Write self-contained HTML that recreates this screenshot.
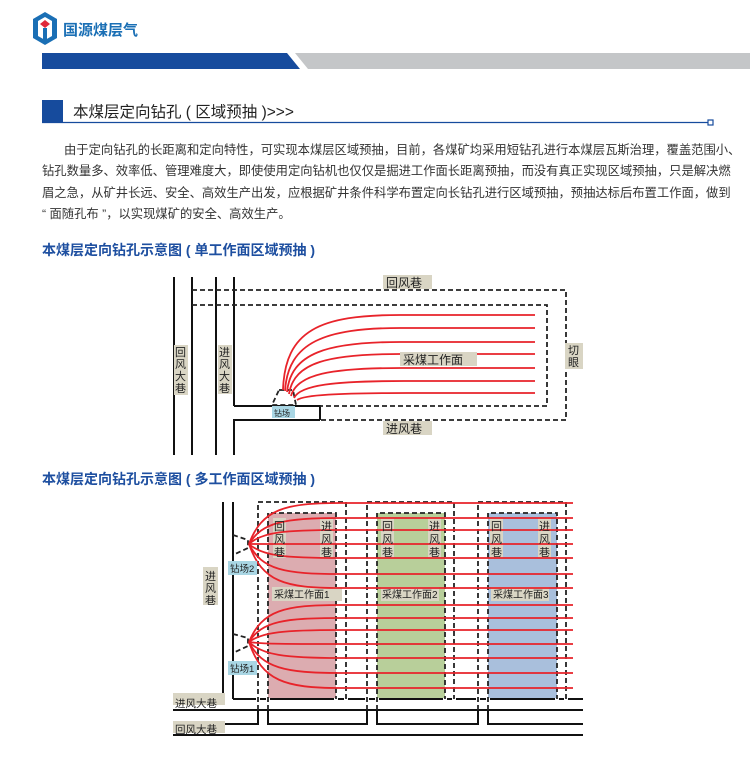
<!DOCTYPE html>
<html><head><meta charset="utf-8"><style>
body{margin:0;width:750px;height:759px;background:#fff;position:relative;overflow:hidden;font-family:"Liberation Sans","Noto Sans CJK SC",sans-serif;}
.a{position:absolute;}
.p{position:absolute;left:42px;width:674px;font-size:12.3px;color:#333;text-align:justify;text-align-last:justify;white-space:nowrap;line-height:14px;}
.sub{position:absolute;left:42px;font-size:14px;font-weight:bold;color:#1e4fa0;white-space:pre;}
</style></head><body>
<svg class="a" style="left:0;top:0" width="750" height="759">
<polygon points="45,12 57,19 57,38 45,45 33,38 33,19" fill="#1a6fb5"/>
<polygon points="45,17 52,21 52,36 45,40 38,36 38,21" fill="#fff"/>
<polygon points="45,20 50,24 45,28 40,24" fill="#e0283a"/>
<rect x="43" y="28" width="4" height="12" fill="#1a6fb5"/>
<text x="63" y="35" font-size="15" font-weight="bold" fill="#1a6fb5" font-family="Liberation Sans,Noto Sans CJK SC,sans-serif">国源煤层气</text>
<polygon points="295,53 750,53 750,69 308,69" fill="#c4c6c8"/>
<polygon points="42,53 287,53 300,69 42,69" fill="#164b9d"/>
<rect x="42" y="100" width="21" height="22" fill="#164b9d"/>
<line x1="42" y1="122.5" x2="710" y2="122.5" stroke="#164b9d" stroke-width="1.2"/>
<rect x="708" y="120" width="5" height="5" fill="#fff" stroke="#164b9d" stroke-width="1.2"/>
<text x="73" y="117" font-size="15.5" fill="#222" font-family="Liberation Sans,Noto Sans CJK SC,sans-serif" xml:space="preserve">本煤层定向钻孔 ( 区域预抽 )&gt;&gt;&gt;</text>

<g stroke="#111" stroke-width="2" fill="none">
<line x1="174" y1="277" x2="174" y2="455"/>
<line x1="192" y1="277" x2="192" y2="455"/>
<line x1="216" y1="277" x2="216" y2="455"/>
<line x1="234" y1="277" x2="234" y2="406"/>
<polyline points="234,406 320,406 320,420"/>
<polyline points="234,455 234,420 320,420"/>
</g>
<g stroke="#222" stroke-width="1.8" fill="none" stroke-dasharray="5,3">
<polyline points="192,290 566,290 566,420 320,420"/>
<polyline points="192,305 547,305 547,406 320,406"/>
<polygon points="279,390 293,390 296,405 272,405"/>
</g>
<g stroke="#e8232a" stroke-width="1.8" fill="none">
<path d="M283 390 C285 330,320 315,400 315 L535 315"/>
<path d="M285 391 C288 342,325 328,400 328 L535 328"/>
<path d="M287 392 C291 353,327 342,400 342 L535 342"/>
<path d="M289 394 C294 362,329 354,400 354 L535 354"/>
<path d="M291 396 C297 374,331 368,401 368 L535 368"/>
<path d="M294 398 C300 385,334 381,404 381 L535 381"/>
<path d="M297 400 C304 395,337 393,407 393 L535 393"/>
</g>
<g fill="#d9d5c4">
<rect x="383" y="275" width="49" height="14"/>
<rect x="383" y="421" width="49" height="14"/>
<rect x="400" y="352" width="77" height="14"/>
<rect x="565" y="343" width="18" height="26"/>
<rect x="174" y="345" width="14" height="50"/>
<rect x="218" y="345" width="14" height="49"/>
</g>
<rect x="272" y="406" width="23" height="12" fill="#a9d6e4"/>
<g font-size="12" fill="#222" font-family="Liberation Sans,Noto Sans CJK SC,sans-serif">
<text x="386" y="287">回风巷</text>
<text x="386" y="433">进风巷</text>
<text x="403" y="364">采煤工作面</text>
<text x="568" y="354" font-size="11">切</text><text x="568" y="366" font-size="11">眼</text>
<text x="175" y="356" font-size="11">回</text><text x="175" y="368" font-size="11">风</text><text x="175" y="380" font-size="11">大</text><text x="175" y="392" font-size="11">巷</text>
<text x="219" y="356" font-size="11">进</text><text x="219" y="368" font-size="11">风</text><text x="219" y="380" font-size="11">大</text><text x="219" y="392" font-size="11">巷</text>
<text x="274" y="416" font-size="8">钻场</text>
</g>

<rect x="268" y="513" width="68" height="186" fill="#dcacb0"/>
<rect x="377" y="513" width="68" height="186" fill="#b8cf9a"/>
<rect x="488" y="513" width="69" height="186" fill="#a9bfdc"/>
<g stroke="#111" stroke-width="2" fill="none">
<polyline points="223,502 223,698 173,698"/>
<line x1="233" y1="502" x2="233" y2="699"/>
<line x1="233" y1="699" x2="583" y2="699"/>
<line x1="173" y1="710" x2="583" y2="710"/>
<line x1="173" y1="735" x2="583" y2="735"/>
<polyline points="173,724 258,724 258,710"/>
<polyline points="268,710 268,724 367,724 367,710"/>
<polyline points="377,710 377,724 478,724 478,710"/>
<polyline points="488,710 488,724 583,724"/>
</g>
<g stroke="#fff" stroke-width="4">
<line x1="258" y1="698" x2="258" y2="700"/><line x1="268" y1="698" x2="268" y2="700"/>
<line x1="346" y1="698" x2="346" y2="700"/><line x1="336" y1="698" x2="336" y2="700"/>
<line x1="367" y1="698" x2="367" y2="700"/><line x1="377" y1="698" x2="377" y2="700"/>
<line x1="445" y1="698" x2="445" y2="700"/><line x1="454" y1="698" x2="454" y2="700"/>
<line x1="478" y1="698" x2="478" y2="700"/><line x1="488" y1="698" x2="488" y2="700"/>
<line x1="557" y1="698" x2="557" y2="700"/><line x1="566" y1="698" x2="566" y2="700"/>
</g>
<g stroke="#222" stroke-width="1.8" fill="none" stroke-dasharray="5,3">
<polyline points="258,710 258,502 346,502 346,699"/>
<polyline points="268,710 268,513 336,513 336,699"/>
<polyline points="367,710 367,502 454,502 454,699"/>
<polyline points="377,710 377,513 445,513 445,699"/>
<polyline points="478,710 478,502 566,502 566,699"/>
<polyline points="488,710 488,513 557,513 557,699"/>
<polyline points="233,535 248,540 248,548 233,555"/>
<polyline points="233,634 248,638 248,646 233,653"/>
</g>
<g fill="#d9d5c4">
<rect x="273" y="518" width="13" height="40"/><rect x="320" y="518" width="13" height="40"/>
<rect x="381" y="518" width="13" height="40"/><rect x="428" y="518" width="13" height="40"/>
<rect x="490" y="518" width="13" height="40"/><rect x="538" y="518" width="13" height="40"/>
<rect x="272" y="587" width="70" height="14"/><rect x="381" y="587" width="58" height="14"/>
<rect x="491" y="587" width="58" height="14"/>
<rect x="203" y="567" width="15" height="38"/>
<rect x="173" y="693" width="52" height="12"/>
<rect x="173" y="721" width="52" height="12"/>
</g>
<g stroke="#e8232a" stroke-width="1.8" fill="none">
<path d="M249 544 C262 509,285 503,340 503 L573 503"/>
<path d="M249 544 C262 522,285 518,340 518 L573 518"/>
<path d="M249 544 C262 532,285 530,340 530 L573 530"/>
<path d="M249 544 C262 544,285 544,340 544 L573 544"/>
<path d="M249 544 C262 556,285 558,340 558 L573 558"/>
<path d="M249 544 C262 570,285 574,340 574 L573 574"/>
<path d="M249 544 C262 582,285 588,340 588 L573 588"/>
<path d="M249 642 C262 610,285 605,340 605 L573 605"/>
<path d="M249 642 C262 621,285 618,340 618 L573 618"/>
<path d="M249 642 C262 632,285 630,340 630 L573 630"/>
<path d="M249 642 C262 644,285 644,340 644 L573 644"/>
<path d="M249 642 C262 655,285 658,340 658 L573 658"/>
<path d="M249 642 C262 668,285 673,340 673 L573 673"/>
<path d="M249 642 C262 681,285 688,340 688 L573 688"/>
</g>
<rect x="228" y="561" width="29" height="14" fill="#a9d6e4"/>
<rect x="228" y="661" width="29" height="14" fill="#a9d6e4"/>
<g font-size="11" fill="#222" font-family="Liberation Sans,Noto Sans CJK SC,sans-serif">
<text x="274" y="530">回</text><text x="274" y="543">风</text><text x="274" y="556">巷</text>
<text x="321" y="530">进</text><text x="321" y="543">风</text><text x="321" y="556">巷</text>
<text x="382" y="530">回</text><text x="382" y="543">风</text><text x="382" y="556">巷</text>
<text x="429" y="530">进</text><text x="429" y="543">风</text><text x="429" y="556">巷</text>
<text x="491" y="530">回</text><text x="491" y="543">风</text><text x="491" y="556">巷</text>
<text x="539" y="530">进</text><text x="539" y="543">风</text><text x="539" y="556">巷</text>
<text x="274" y="598" font-size="10">采煤工作面1</text>
<text x="382" y="598" font-size="10">采煤工作面2</text>
<text x="493" y="598" font-size="10">采煤工作面3</text>
<text x="205" y="580">进</text><text x="205" y="592">风</text><text x="205" y="604">巷</text>
<text x="230" y="572" font-size="9.5">钻场2</text>
<text x="230" y="672" font-size="9.5">钻场1</text>
<text x="175" y="707" font-size="10.5">进风大巷</text>
<text x="175" y="733" font-size="10.5">回风大巷</text>
</g>
</svg>
<div class="p" style="top:143px;left:64px;width:652px;">由于定向钻孔的长距离和定向特性，可实现本煤层区域预抽，目前，各煤矿均采用短钻孔进行本煤层瓦斯治理，覆盖范围小、</div>
<div class="p" style="top:164px;">钻孔数量多、效率低、管理难度大，即使使用定向钻机也仅仅是掘进工作面长距离预抽，而没有真正实现区域预抽，只是解决燃</div>
<div class="p" style="top:186px;">眉之急，从矿井长远、安全、高效生产出发，应根据矿井条件科学布置定向长钻孔进行区域预抽，预抽达标后布置工作面，做到</div>
<div class="p" style="top:207px;text-align-last:left;">“ 面随孔布 ”，以实现煤矿的安全、高效生产。</div>
<div class="sub" style="top:240px;">本煤层定向钻孔示意图 ( 单工作面区域预抽 )</div>
<div class="sub" style="top:469px;">本煤层定向钻孔示意图 ( 多工作面区域预抽 )</div>
</body></html>
